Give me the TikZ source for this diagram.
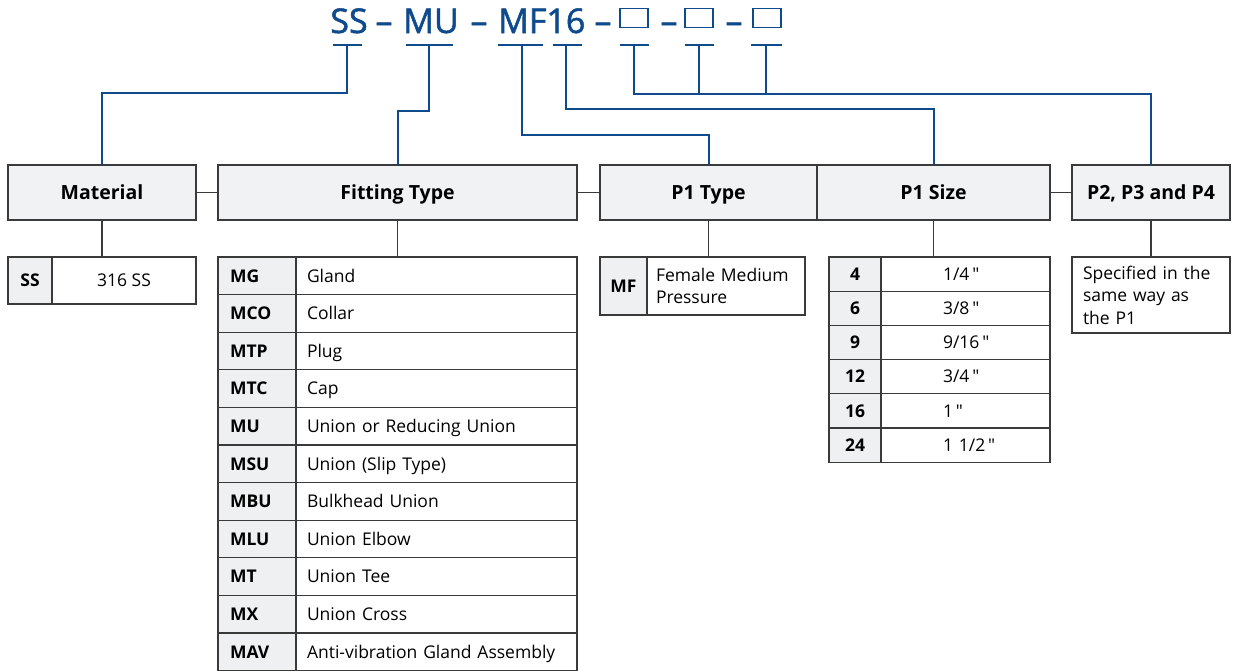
\documentclass[tikz,border=0pt]{standalone}
\usepackage{fontspec}
\setmainfont{Open Sans}
\newfontfamily\codefont[FakeBold=1.5]{Open Sans}
\newfontfamily\rawfont[Ligatures=TeXOff]{Open Sans}
\definecolor{codeblue}{HTML}{0E4A8C}
\definecolor{edgec}{HTML}{3A3A3A}
\definecolor{hdrfill}{HTML}{F1F2F4}
\definecolor{codefill}{HTML}{EFF0F2}
\newcommand{\cellat}[7]{\node[cellbox,#6,minimum width={(#4)-(#2)},minimum height={(#5)-(#3)}] (#1) at ({((#2)+(#4))/2},{((#3)+(#5))/2}) {#7};}
\newcommand{\inch}{\,{\rawfont"}}
\begin{document}
\begin{tikzpicture}[x=1pt,y=-1pt,
  blueline/.style={draw=codeblue, line width=2pt},
  greyline/.style={draw=edgec, line width=1.1pt},
  codetxt/.style={text=codeblue, font=\codefont\fontsize{34}{34}\selectfont, anchor=base, inner sep=0},
  codebox/.style={draw=codeblue, line width=1.8pt, minimum width=28pt, minimum height=19pt, inner sep=0},
  hdr/.style={draw=edgec, line width=1.1pt, fill=hdrfill, minimum height=55pt, inner sep=0, outer sep=0,
     font=\fontsize{19.5}{22}\selectfont\bfseries, text height=13.9pt, text depth=0pt},
  cellbox/.style={draw=edgec, line width=1.1pt, inner sep=0, outer sep=0, fill=white,
     font=\fontsize{17.5}{22.5}\selectfont, text height=12.5pt, text depth=0pt},
  codec/.style={fill=codefill, font=\fontsize{17.5}{22.5}\selectfont\bfseries},
  multi/.style={text height=, text depth=}
]
\useasboundingbox (0,0) rectangle (1235,670);

% ---- part number code ----
\node[codetxt] (cSS) at (349,33) {SS};
\node[codetxt] (d1) at (384,33) {–};
\node[codetxt] (cMU) at (431,33) {MU};
\node[codetxt] (d2) at (479,33) {–};
\node[codetxt, anchor=base west] (cMF) at (498,33) {MF16};
\node[codetxt] (d3) at (603,33) {–};
\node[codebox] (box1) at (634,18) {};
\node[codetxt] (d4) at (669,33) {–};
\node[codebox] (box2) at (699,18) {};
\node[codetxt] (d5) at (734,33) {–};
\node[codebox] (box3) at (767,18) {};

% underline bars
\coordinate (bSS) at (347,45);
\coordinate (bMU) at (429,45);
\coordinate (bMF) at (522,45);
\coordinate (b16) at (566,45);
\coordinate (bB1) at (634,45);
\coordinate (bB2) at (699,45);
\coordinate (bB3) at (766,45);
\draw[blueline] (333,45) -- (362,45);
\draw[blueline] (406,45) -- (453,45);
\draw[blueline] (498,45) -- (543,45);
\draw[blueline] (553,45) -- (582,45);
\draw[blueline] (620,45) -- (649,45);
\draw[blueline] (685,45) -- (714,45);
\draw[blueline] (751,45) -- (782,45);

% ---- header boxes ----
\node[hdr, minimum width=188pt] (mat) at (102,192.5) {Material};
\node[hdr, minimum width=359pt] (fit) at (397.5,192.5) {Fitting Type};
\node[hdr, minimum width=217pt] (p1t) at (708.5,192.5) {P1 Type};
\node[hdr, minimum width=233pt] (p1s) at (933.5,192.5) {P1 Size};
\node[hdr, minimum width=158pt] (p2) at (1151,192.5) {P2, P3 and P4};

% blue connectors
\draw[blueline] (bSS) -- ++(0,48) -| (mat.north);
\draw[blueline] (bMU) -- ++(0,66) -| (fit.north);
\draw[blueline] (bMF) -- ++(0,90) -| (p1t.north);
\draw[blueline] (b16) -- ++(0,64) -| (p1s.north);
\draw[blueline] (bB1) -- ++(0,49) -| (p2.north);
\draw[blueline] (bB2) -- ++(0,49);
\draw[blueline] (bB3) -- ++(0,49);

% grey connectors between headers
\draw[greyline] (mat.east) -- (fit.west);
\draw[greyline] (fit.east) -- (p1t.west);
\draw[greyline] (p1s.east) -- (p2.west);

% ---- Material table ----
\cellat{mc}{8}{257}{52}{304}{codec}{SS}
\cellat{md}{52}{257}{196}{304}{}{316 SS}

% ---- Fitting type table ----
\foreach \c/\d [count=\i from 0] in {MG/Gland, MCO/Collar, MTP/Plug, MTC/Cap,
   MU/Union or Reducing Union, MSU/Union (Slip Type), MBU/Bulkhead Union,
   MLU/Union Elbow, MT/Union Tee, MX/Union Cross, MAV/Anti-vibration Gland Assembly}{
  \cellat{fc\i}{218}{257+37.6*\i}{296}{257+37.6*(\i+1)}{codec, align=left, text width=54pt, inner xsep=12pt}{\c}
  \cellat{fd\i}{296}{257+37.6*\i}{577}{257+37.6*(\i+1)}{align=left, text width=259pt, inner xsep=11pt}{\d}
}

% ---- P1 Type table ----
\cellat{tc}{600}{257}{647}{315}{codec}{MF}
\cellat{td}{647}{257}{805}{315}{multi, align=left, text width=140pt, inner xsep=9pt}{Female Medium\\Pressure}

% ---- P1 Size table ----
\cellat{sc0}{829}{257}{881}{291.2}{codec}{4}
\cellat{sd0}{881}{257}{1050}{291.2}{align=left, text width=45pt, inner xsep=62pt}{1/4\inch}
\cellat{sc1}{829}{291.2}{881}{325.4}{codec}{6}
\cellat{sd1}{881}{291.2}{1050}{325.4}{align=left, text width=45pt, inner xsep=62pt}{3/8\inch}
\cellat{sc2}{829}{325.4}{881}{359.6}{codec}{9}
\cellat{sd2}{881}{325.4}{1050}{359.6}{align=left, text width=45pt, inner xsep=62pt}{9/16\inch}
\cellat{sc3}{829}{359.6}{881}{393.8}{codec}{12}
\cellat{sd3}{881}{359.6}{1050}{393.8}{align=left, text width=45pt, inner xsep=62pt}{3/4\inch}
\cellat{sc4}{829}{393.8}{881}{428}{codec}{16}
\cellat{sd4}{881}{393.8}{1050}{428}{align=left, text width=45pt, inner xsep=62pt}{1\inch}
\cellat{sc5}{829}{428}{881}{462.2}{codec}{24}
\cellat{sd5}{881}{428}{1050}{462.2}{align=left, text width=45pt, inner xsep=62pt}{1~1/2\inch}

% ---- P2 table ----
\cellat{pd}{1072}{257}{1230}{333}{multi, align=left, text width=136pt, inner xsep=11pt}{Specified in the\\same way as\\the P1}

% grey connectors header -> tables
\coordinate (tMat) at (102,257);
\coordinate (tFit) at (397.5,257);
\coordinate (tP1t) at (708.5,257);
\coordinate (tP1s) at (933.5,257);
\coordinate (tP2) at (1151,257);
\draw[greyline] (mat.south) -- (tMat);
\draw[greyline] (fit.south) -- (tFit);
\draw[greyline] (p1t.south) -- (tP1t);
\draw[greyline] (p1s.south) -- (tP1s);
\draw[greyline] (p2.south) -- (tP2);
\end{tikzpicture}
\end{document}
